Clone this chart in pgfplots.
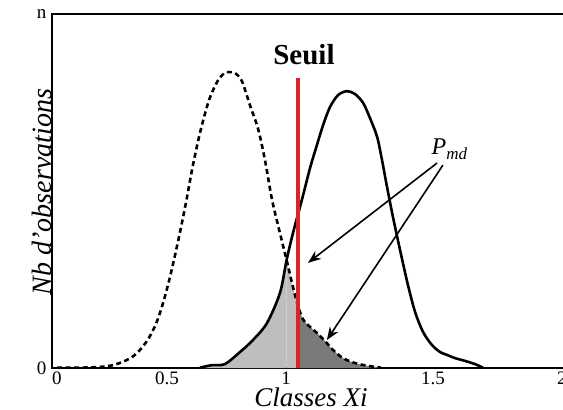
\documentclass[border=0pt]{standalone}
\usepackage{fontspec}
\setmainfont{Liberation Serif}
\usepackage{pgfplots}
\pgfplotsset{compat=1.18}
\usepackage{pgfplotstable}
\usetikzlibrary{arrows.meta}
\definecolor{seuilred}{RGB}{222,35,35}
\definecolor{lightfill}{RGB}{190,190,190}
\definecolor{darkfill}{RGB}{122,122,122}

% dashed distribution (left)
\pgfplotstableread{
x y
0.020 0.001
0.110 0.001
0.188 0.003
0.239 0.008
0.286 0.020
0.318 0.033
0.350 0.055
0.380 0.085
0.408 0.125
0.434 0.180
0.461 0.252
0.492 0.350
0.524 0.462
0.553 0.574
0.583 0.672
0.616 0.757
0.649 0.810
0.676 0.833
0.694 0.836
0.718 0.833
0.745 0.810
0.776 0.743
0.808 0.676
0.835 0.588
0.863 0.475
0.894 0.381
0.920 0.305
0.945 0.229
0.965 0.175
0.984 0.138
1.012 0.116
1.039 0.099
1.071 0.076
1.102 0.051
1.141 0.028
1.188 0.014
1.239 0.006
1.290 0.001
}\dashedtab

% solid distribution (right)
\pgfplotstableread{
x y
0.580 0.001
0.627 0.008
0.678 0.011
0.737 0.045
0.788 0.079
0.843 0.127
0.894 0.212
0.920 0.305
0.945 0.381
0.980 0.475
1.012 0.565
1.039 0.630
1.063 0.686
1.090 0.737
1.122 0.771
1.157 0.782
1.188 0.774
1.220 0.749
1.247 0.706
1.275 0.653
1.294 0.588
1.314 0.511
1.337 0.427
1.365 0.333
1.396 0.234
1.424 0.158
1.455 0.102
1.490 0.065
1.522 0.045
1.549 0.037
1.580 0.028
1.620 0.020
1.659 0.011
1.690 0.001
}\solidtab

\begin{document}
\begin{tikzpicture}
\begin{axis}[
  name=ax,
  scale only axis,
  width=523pt, height=354pt,
  xmin=0, xmax=2.051, ymin=0, ymax=1,
  axis line style={line width=2pt},
  xtick={0.0196,0.451,0.918,1.494,2},
  xticklabels={0,0.5,1,1.5,2},
  ytick={0,1},
  yticklabels={0,n},
  major tick length=0pt,
  /pgf/number format/assume math mode=true,
  tick label style={font=\fontsize{19}{19}\selectfont},
  xticklabel style={yshift=0pt},
  yticklabel style={xshift=-2pt},
  xlabel={\textit{Classes Xi}},
  ylabel={\textit{Nb d’observations}},
  every axis x label/.style={at={(axis description cs:0.495,0)}, anchor=base, yshift=-38pt, font=\fontsize{27}{27}\selectfont},
  every axis y label/.style={at={(axis description cs:0,0.525)}, rotate=90, anchor=base, xshift=-10pt, font=\fontsize{28}{28}\selectfont},
  clip=false,
]
\addplot[draw=none, fill=lightfill, smooth, restrict x to domain=0.57:0.921] table[x=x,y=y]{\solidtab} \closedcycle;
\addplot[draw=none, fill=lightfill, smooth, restrict x to domain=0.919:0.966] table[x=x,y=y]{\dashedtab} \closedcycle;
\addplot[draw=none, fill=darkfill, smooth, restrict x to domain=0.964:1.30] table[x=x,y=y]{\dashedtab} \closedcycle;
\addplot[black, line width=2.6pt, dash pattern=on 5pt off 3.5pt, smooth] table[x=x,y=y]{\dashedtab};
\addplot[black, line width=2.6pt, smooth] table[x=x,y=y]{\solidtab};
\addplot[seuilred, line width=3.2pt] coordinates {(0.965,0) (0.965,0.819)};
\addplot[black, line width=1.6pt, -{Stealth[length=13pt,width=10pt]}] coordinates {(1.510,0.579) (1.004,0.297)};
\addplot[black, line width=1.6pt, -{Stealth[length=13pt,width=10pt]}] coordinates {(1.533,0.573) (1.078,0.079)};
\node[anchor=base, font=\fontsize{29}{29}\selectfont\bfseries] at (axis cs:0.988,0.856) {Seuil};
\node[anchor=base west, inner sep=0pt, font=\fontsize{24}{24}\selectfont] at (axis cs:1.488,0.602) {\textit{P}\raisebox{-5pt}{\fontsize{17}{17}\selectfont\textit{md}}};
\end{axis}
\pgfresetboundingbox
\path[use as bounding box] ([shift={(-52pt,-42pt)}]ax.south west) rectangle ([shift={(511pt,368pt)}]ax.south west);
\end{tikzpicture}
\end{document}
